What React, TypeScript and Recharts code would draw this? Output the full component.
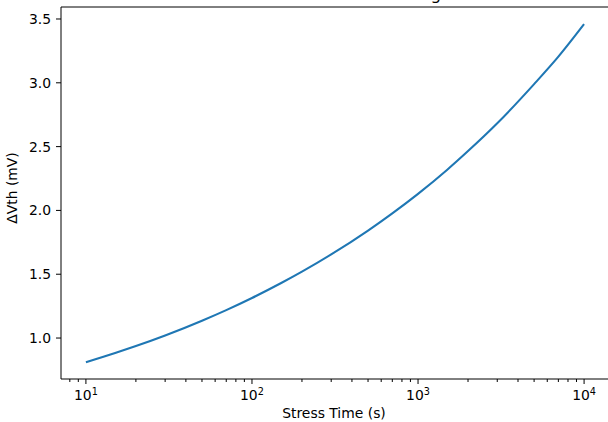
import React from 'react';
import { LineChart, Line, XAxis, YAxis, Customized } from 'recharts';

const FONT = '"DejaVu Sans", Verdana, sans-serif';

// threshold-voltage shift vs stress time
const stressTime = [10, 15, 20, 30, 50, 70, 100, 150, 200, 300, 500, 700, 1000, 1500, 2000, 3000, 5000, 7000, 10000];
const deltaVth = [0.81, 0.882, 0.937, 1.02, 1.136, 1.219, 1.314, 1.431, 1.52, 1.655, 1.842, 1.977, 2.13, 2.319, 2.465, 2.683, 2.99, 3.205, 3.46];

const xMajorTicks = [10, 100, 1000, 10000];
const xMinorTicks = [
  8, 9,
  20, 30, 40, 50, 60, 70, 80, 90,
  200, 300, 400, 500, 600, 700, 800, 900,
  2000, 3000, 4000, 5000, 6000, 7000, 8000, 9000,
];
const yTicks = [1.0, 1.5, 2.0, 2.5, 3.0, 3.5];

const xDomain = [7.0795, 14125];
const yDomain = [0.679, 3.594];

const chartTitle = 'NBTI ΔVth Evolution Under Long Stress';
const xLabel = 'Stress Time (s)';
const yLabel = 'ΔVth (mV)';

const data = stressTime.map((t, i) => ({ time: t, dvth: deltaVth[i] }));
const allXTicks = [...xMinorTicks, ...xMajorTicks].sort((a, b) => a - b);

// draws its own tick mark: long for decades (with 10^n label), short for minor ticks
function LogTick({ x, y, payload }: any) {
  const v = payload.value;
  const major = xMajorTicks.includes(v);
  return (
    <g>
      <line x1={x} x2={x} y1={y} y2={y + (major ? 5 : 3)} stroke="#000" strokeWidth={1} />
      {major && (
        <text x={x} y={y + 20.5} textAnchor="middle" fontFamily={FONT} fontSize={13.9} fill="#000">
          10<tspan fontSize={9.7} dy={-5}>{Math.round(Math.log10(v))}</tspan>
        </text>
      )}
    </g>
  );
}

function Labels() {
  return (
    <g fontFamily={FONT} fill="#000">
      <text x={335} y={-0.5} textAnchor="middle" fontSize={16.7}>{chartTitle}</text>
      <text x={334} y={418} textAnchor="middle" fontSize={13.9}>{xLabel}</text>
      <text x={16.5} y={188} textAnchor="middle" fontSize={13.9} transform="rotate(-90, 16.5, 188)">
        {yLabel}
      </text>
    </g>
  );
}

export default function App() {
  return (
    <div style={{ position: 'absolute', left: 0, top: 0, width: 608, height: 422, overflow: 'hidden', background: '#fff' }}>
      <LineChart width={610} height={422} data={data} margin={{ top: 6, right: 0, bottom: 0, left: 0 }}>
        <XAxis
          xAxisId="main"
          dataKey="time"
          type="number"
          scale="log"
          domain={xDomain}
          allowDataOverflow
          ticks={allXTicks}
          interval={0}
          tick={<LogTick />}
          tickLine={false}
          tickSize={0}
          tickMargin={0}
          height={43}
          stroke="#000"
        />
        <XAxis
          xAxisId="top"
          orientation="top"
          dataKey="time"
          type="number"
          scale="log"
          domain={xDomain}
          allowDataOverflow
          ticks={xMajorTicks}
          tick={false}
          tickLine={false}
          height={1}
          stroke="#000"
        />
        <YAxis
          yAxisId="main"
          type="number"
          domain={yDomain}
          allowDataOverflow
          ticks={yTicks}
          interval={0}
          tickFormatter={(v: number) => v.toFixed(1)}
          tick={{ fontFamily: FONT, fontSize: 13.9, fill: '#000' }}
          tickSize={5}
          tickMargin={5}
          width={61}
          stroke="#000"
        />
        <YAxis
          yAxisId="right"
          orientation="right"
          type="number"
          domain={yDomain}
          ticks={yTicks}
          tick={false}
          tickLine={false}
          width={1}
          stroke="#000"
        />
        <Line
          xAxisId="main"
          yAxisId="main"
          type="monotone"
          dataKey="dvth"
          stroke="#1f77b4"
          strokeWidth={2.08}
          dot={false}
          isAnimationActive={false}
        />
        <Customized component={Labels} />
      </LineChart>
    </div>
  );
}
